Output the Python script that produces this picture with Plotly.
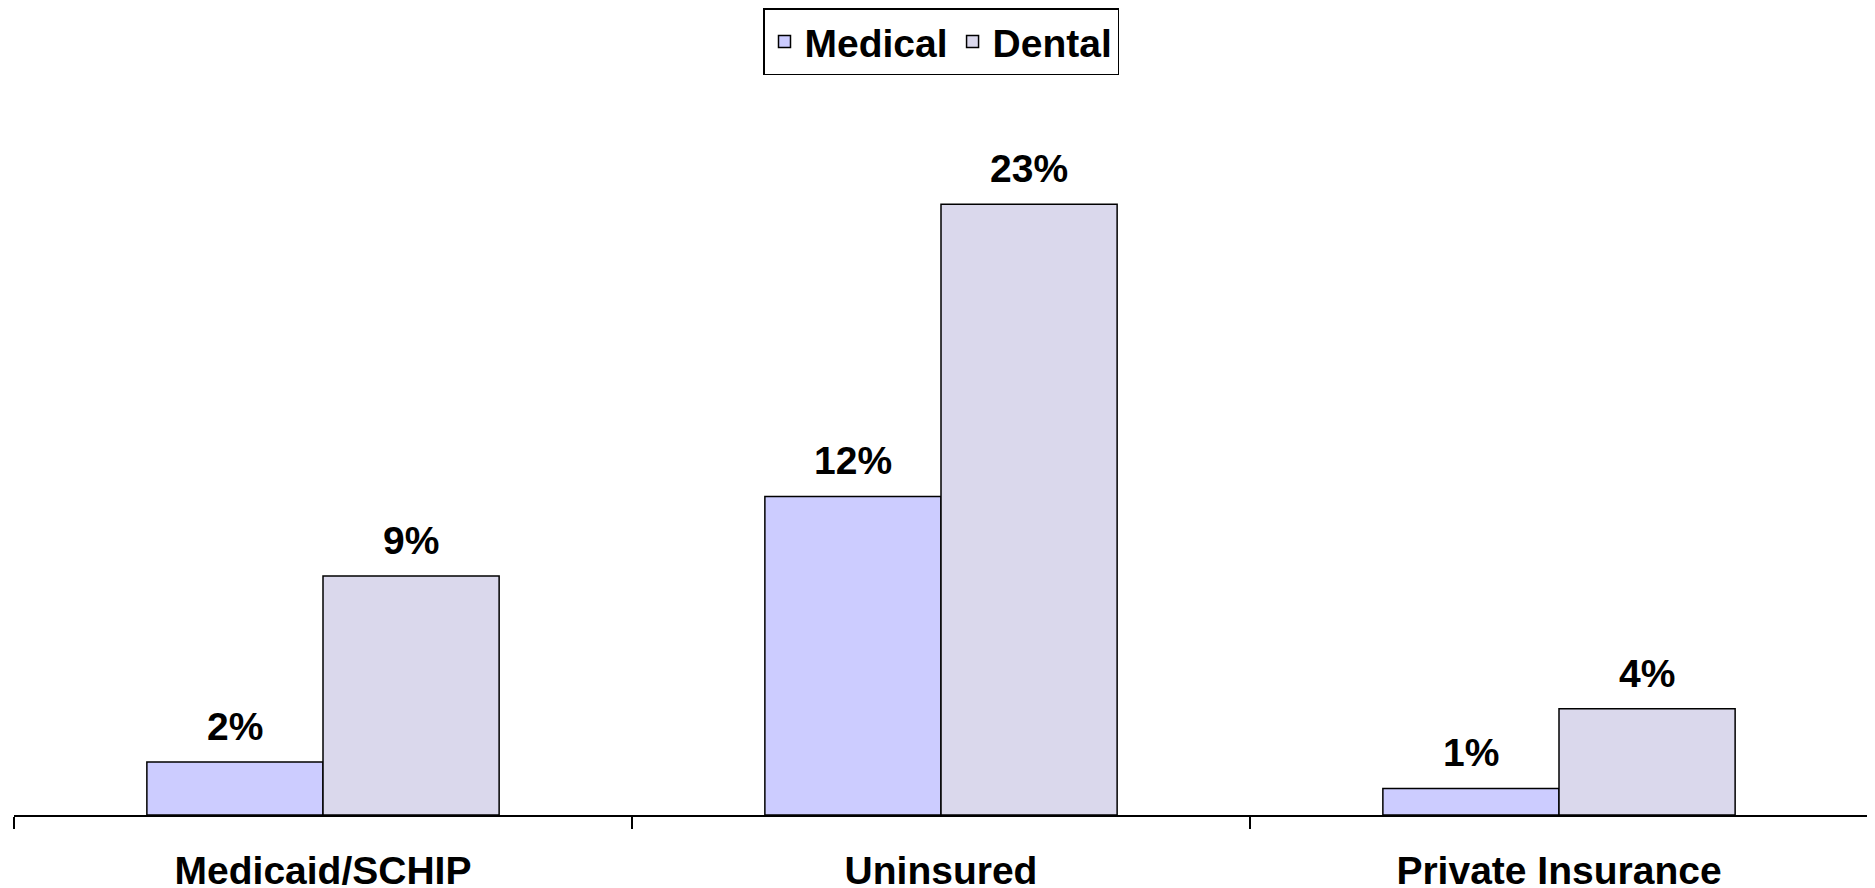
import plotly.graph_objects as go

# data
categories = ["Medicaid/SCHIP", "Uninsured", "Private Insurance"]
medical = [2, 12, 1]
dental = [9, 23, 4]

FONT = "Liberation Sans, Arial, sans-serif"
BOLD = dict(family=FONT, size=39, color="black", weight="bold")

fig = go.Figure()

fig.add_trace(go.Bar(
    name="Medical",
    x=categories,
    y=medical,
    marker=dict(color="#CCCCFF", line=dict(color="black", width=1.5)),
))

fig.add_trace(go.Bar(
    name="Dental",
    x=categories,
    y=dental,
    marker=dict(color="#DAD8EC", line=dict(color="black", width=1.5)),
))

# value labels above the bars (shifted onto each bar of the group)
for vals, shift in [(medical, -88), (dental, 88)]:
    for cat, v in zip(categories, vals):
        fig.add_annotation(
            x=cat, y=v, text=f"{v}%",
            showarrow=False,
            xshift=shift, yshift=12,
            yanchor="bottom",
            font=BOLD,
        )

fig.update_layout(
    width=1867,
    height=880,
    margin=dict(l=6, r=7, t=92, b=72.5, autoexpand=False),
    plot_bgcolor="white",
    paper_bgcolor="white",
    font=BOLD,
    barmode="group",
    bargap=0.43,
    bargroupgap=0,
    showlegend=True,
    legend=dict(
        orientation="h",
        x=0.5,
        xanchor="center",
        y=1.1286,
        yanchor="top",
        bordercolor="black",
        borderwidth=1.5,
        font=BOLD,
        bgcolor="white",
    ),
    xaxis=dict(
        showline=True,
        linecolor="black",
        linewidth=1.5,
        ticks="outside",
        tickson="boundaries",
        ticklen=12,
        tickwidth=1.5,
        tickcolor="black",
        ticklabelstandoff=20,
        showgrid=False,
        automargin=False,
    ),
    yaxis=dict(
        range=[0, 26.93],
        visible=False,
        showgrid=False,
        zeroline=False,
    ),
)

fig.write_html("out.html")
